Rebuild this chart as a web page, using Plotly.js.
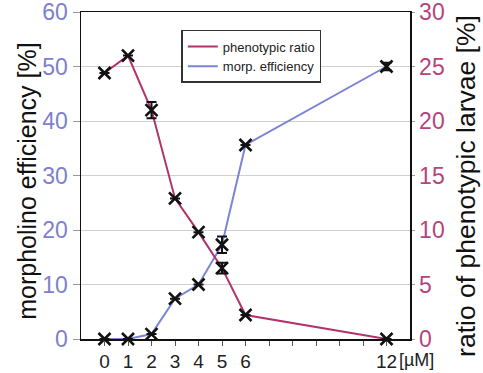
<!DOCTYPE html>
<html>
<head>
<meta charset="utf-8">
<script src="https://cdn.plot.ly/plotly-3.0.1.min.js"></script>
<style>html,body{margin:0;padding:0;background:#fff;}#chart{width:483px;height:373px;}</style>
</head>
<body>
<div id="chart"></div>
<script>
// concentrations [µM]
var dose = [0, 1, 2, 3, 4, 5, 6, 12];
// morpholino efficiency [%] (left axis)
var efficiency = [0, 0, 0.9, 7.4, 10, 17.3, 35.6, 50];
var efficiencyErr = [0, 0, 0, 0, 0, 1.5, 0, 0.7];
// ratio of phenotypic larvae [%] (right axis)
var phenoRatio = [24.4, 26, 21, 12.9, 9.8, 6.5, 2.2, 0];
var phenoErr = [0, 0, 0.75, 0, 0, 0.5, 0, 0];
// tick values / labels
var xTickVals = [0,1,2,3,4,5,6,7,8,9,10,11,12];
var xTickText = ['0','1','2','3','4','5','6','','','','','','12'];
var yTickVals = [0,10,20,30,40,50,60];
var y2TickVals = [0,5,10,15,20,25,30];

var RED = '#b0336c', BLUE = '#7c84d6';
var FONT = 'Liberation Sans, Arial, sans-serif';

var markerStyle = {symbol: 'x-thin', size: 12, color: '#111', line: {color: '#111', width: 2.6}};
var errStyle = function(arr){ return {type: 'data', array: arr, visible: true, color: '#111', thickness: 2, width: 5}; };

var traces = [
  {x: dose, y: efficiency, mode: 'lines', name: 'morp. efficiency', line: {color: BLUE, width: 2}, yaxis: 'y', legendrank: 2},
  {x: dose, y: phenoRatio, mode: 'lines', name: 'phenotypic ratio', line: {color: RED, width: 2}, yaxis: 'y2', legendrank: 1},
  {x: dose, y: efficiency, mode: 'markers', showlegend: false, marker: markerStyle, error_y: errStyle(efficiencyErr), yaxis: 'y', cliponaxis: false},
  {x: dose, y: phenoRatio, mode: 'markers', showlegend: false, marker: markerStyle, error_y: errStyle(phenoErr), yaxis: 'y2', cliponaxis: false}
];

var layout = {
  width: 483, height: 373,
  margin: {l: 81, r: 73, t: 12, b: 34},
  paper_bgcolor: '#fff', plot_bgcolor: '#fff',
  font: {family: FONT, color: '#111'},
  showlegend: true,
  legend: {x: 0.305, y: 0.945, xanchor: 'left', yanchor: 'top', bgcolor: '#fff',
           bordercolor: '#333', borderwidth: 1.5, font: {size: 13, color: '#222', family: FONT},
           tracegroupgap: 0, itemwidth: 30},
  xaxis: {range: [-1, 13], tickvals: xTickVals, ticktext: xTickText, ticks: 'outside', ticklen: 5,
          tickcolor: '#555', showline: true, linecolor: '#111', linewidth: 1.5, mirror: true,
          showgrid: false, zeroline: false, tickfont: {size: 19, color: '#222'}, ticklabeloverflow: 'allow'},
  yaxis: {range: [0, 60], tickvals: yTickVals, ticks: 'outside', ticklen: 7, tickcolor: '#999',
          showline: true, linecolor: '#111', linewidth: 1.5, showgrid: true, gridcolor: '#cfcfcf', gridwidth: 1,
          zeroline: false, tickfont: {size: 23, color: '#7d80cc'}, ticklabeloverflow: 'allow'},
  yaxis2: {range: [0, 30], tickvals: y2TickVals, overlaying: 'y', side: 'right', ticks: 'outside', ticklen: 3,
           tickcolor: '#999', showline: true, linecolor: '#111', linewidth: 1.5, showgrid: false, zeroline: false,
           tickfont: {size: 23, color: '#b5447e'}, ticklabeloverflow: 'allow'},
  annotations: [
    {x: 12, y: 0, xref: 'x', yref: 'paper', text: '[µM]', showarrow: false, xanchor: 'left', yanchor: 'top',
     xshift: 10, yshift: -9, font: {size: 18, color: '#222', family: FONT}},
    {x: -0.165, y: 0.483, xref: 'paper', yref: 'paper', text: 'morpholino efficiency [%]', textangle: -90,
     showarrow: false, xanchor: 'center', yanchor: 'middle', font: {size: 25, color: '#111', family: FONT}},
    {x: 1.170, y: 0.468, xref: 'paper', yref: 'paper', text: 'ratio of phenotypic larvae [%]', textangle: -90,
     showarrow: false, xanchor: 'center', yanchor: 'middle', font: {size: 26.5, color: '#111', family: FONT}}
  ]
};

Plotly.newPlot('chart', traces, layout, {displayModeBar: false, staticPlot: true});
</script>
</body>
</html>
